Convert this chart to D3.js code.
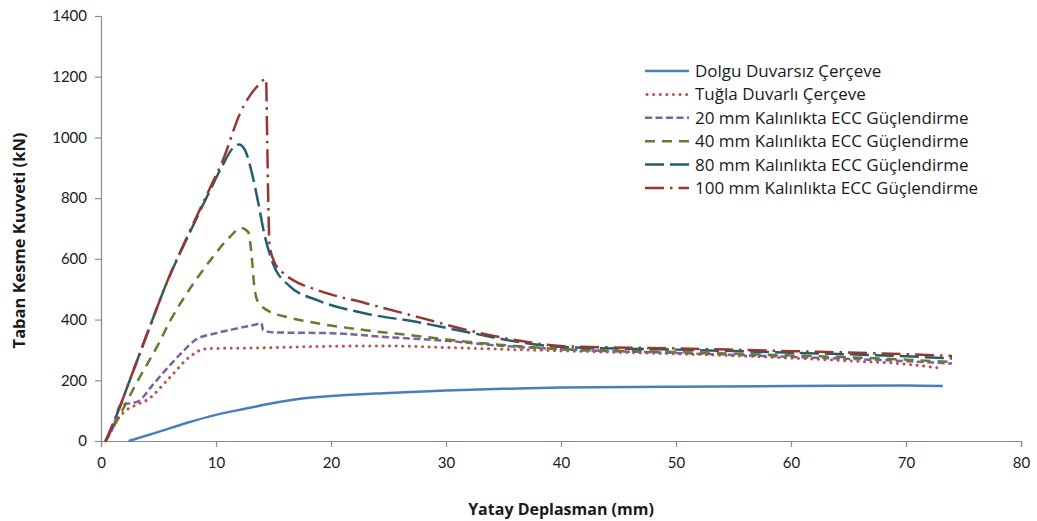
<!DOCTYPE html>
<html>
<head>
<meta charset="utf-8">
<script src="https://cdn.jsdelivr.net/npm/d3@7"></script>
<style>
  html, body { margin: 0; padding: 0; background: #fff; }
  svg { display: block; font-family: "Open Sans", Lato, sans-serif; }
</style>
</head>
<body>
<svg id="chart" width="1037" height="521"></svg>
<script>
// Displacement (mm) / base shear (kN) pairs for each frame configuration
const bareFrame = [[2.4,0],[5,30],[7.5,60],[10,86],[12.5,106],[15,125],[17.5,140],[20,148],[25,158],[30,166],[35,172],[40,176],[50,179],[60,181],[70,183],[73.2,181]];
const brickInfill = [[0.4,0],[1.1,52],[1.9,92],[3,118],[4,135],[6,210],[7.7,277],[9,303],[10,305],[13,306],[20,312],[25,313],[30,308],[35,302],[40,297],[45,292],[50,287],[55,281],[60,273],[65,264],[70,253],[73,240]];
const ecc20 = [[0.4,0],[1,40],[1.7,118],[2.5,124],[3.2,130],[4.5,185],[6,250],[7,290],[8.3,335],[10,355],[12,372],[13.5,384],[13.95,388],[14.1,365],[15,358],[20,355],[25,342],[30,330],[35,313],[40,302],[50,290],[60,277],[70,263],[74,255]];
const ecc40 = [[0.4,0],[1.5,75],[3,185],[5,320],[6,395],[7.7,500],[9.5,595],[11.2,672],[12.2,702],[12.8,688],[13.1,610],[13.3,520],[13.6,462],[14.4,432],[16.2,408],[18.8,388],[23,365],[27.5,346],[31.8,327],[36,313],[40,303],[50,293],[60,282],[70,268],[74,260]];
const ecc80 = [[0.4,0],[1.2,70],[2.5,200],[4.3,382],[5.7,520],[7.7,685],[9.5,827],[10.6,910],[11.4,962],[12,977],[12.5,960],[13.2,870],[13.7,780],[14.1,700],[14.9,590],[16.4,510],[18.8,464],[23,420],[27.5,392],[31.8,359],[36.2,327],[40,310],[50,301],[60,291],[70,279],[74,272]];
const ecc100 = [[0.4,0],[1.2,70],[2.5,200],[4.3,382],[5.7,520],[7.7,690],[9.5,835],[10.6,925],[12.1,1080],[13.7,1173],[14.35,1193],[14.45,1000],[14.55,780],[14.65,650],[15,596],[15.8,555],[16.7,530],[18.8,497],[23,454],[27.5,409],[31.8,366],[36,333],[40,313],[50,305],[60,296],[70,286],[74,280]];

const seriesNames = [
  "Dolgu Duvarsız Çerçeve",
  "Tuğla Duvarlı Çerçeve",
  "20 mm Kalınlıkta ECC Güçlendirme",
  "40 mm Kalınlıkta ECC Güçlendirme",
  "80 mm Kalınlıkta ECC Güçlendirme",
  "100 mm Kalınlıkta ECC Güçlendirme"
];
const seriesData = [bareFrame, brickInfill, ecc20, ecc40, ecc80, ecc100];

const xTicks = [0, 10, 20, 30, 40, 50, 60, 70, 80];
const yTicks = [0, 200, 400, 600, 800, 1000, 1200, 1400];

// Stroke styles per series
const styles = [
  { color: "#4a7ebb", width: 2.5, dash: null, cap: "butt" },
  { color: "#c0504d", width: 3, dash: "0.1,6.5", cap: "round" },
  { color: "#7d60a0", width: 2.5, dash: "7,3.5", cap: "butt" },
  { color: "#677a2e", width: 2.5, dash: "10,7", cap: "butt" },
  { color: "#215f6e", width: 2.5, dash: "19,6", cap: "butt" },
  { color: "#9a3532", width: 2.5, dash: "19,6,2.5,6", cap: "butt" }
];

const svg = d3.select("#chart");
const margin = { left: 101, right: 16, top: 16, bottom: 80 };
const W = 1037, H = 521;

const x = d3.scaleLinear().domain([0, 80]).range([margin.left, W - margin.right]);
const y = d3.scaleLinear().domain([0, 1400]).range([H - margin.bottom, margin.top]);

const axisColor = "#8c8c8c";

// Y axis
const yAxis = svg.append("g")
  .attr("transform", `translate(${x(0)},0)`)
  .call(d3.axisLeft(y).tickValues(yTicks).tickSize(6).tickPadding(8).tickFormat(d3.format("d")));
// X axis
const xAxis = svg.append("g")
  .attr("transform", `translate(0,${y(0)})`)
  .call(d3.axisBottom(x).tickValues(xTicks).tickSize(6).tickPadding(10));

[yAxis, xAxis].forEach(g => {
  g.select(".domain").attr("stroke", axisColor).attr("stroke-width", 1.2);
  g.selectAll(".tick line").attr("stroke", axisColor).attr("stroke-width", 1.2);
  g.selectAll(".tick text").attr("fill", "#1a1a1a").style("font-size", "15px")
    .style("font-family", "Lato, sans-serif");
});

// Curves
const line = d3.line()
  .x(d => x(d[0]))
  .y(d => y(d[1]))
  .curve(d3.curveMonotoneX);

svg.append("g").selectAll("path")
  .data(seriesData)
  .join("path")
  .attr("d", d => line(d))
  .attr("fill", "none")
  .attr("stroke", (d, i) => styles[i].color)
  .attr("stroke-width", (d, i) => styles[i].width)
  .attr("stroke-dasharray", (d, i) => styles[i].dash)
  .attr("stroke-linecap", (d, i) => styles[i].cap)
  .attr("stroke-linejoin", "round");

// Axis titles
svg.append("text")
  .attr("x", (x(0) + x(80)) / 2)
  .attr("y", 515)
  .attr("text-anchor", "middle")
  .style("font-size", "16px")
  .style("font-weight", "bold")
  .attr("fill", "#1a1a1a")
  .text("Yatay Deplasman (mm)");

svg.append("text")
  .attr("transform", `translate(25,${(y(0) + y(1400)) / 2 + 12}) rotate(-90)`)
  .attr("text-anchor", "middle")
  .style("font-size", "16.5px")
  .style("font-weight", "bold")
  .attr("fill", "#1a1a1a")
  .text("Taban Kesme Kuvveti (kN)");

// Legend
const legend = svg.append("g").attr("transform", "translate(645,71)");
const rowH = 23.4;
const rows = legend.selectAll("g")
  .data(seriesNames)
  .join("g")
  .attr("transform", (d, i) => `translate(0,${i * rowH})`);

rows.append("line")
  .attr("x1", (d, i) => i === 1 ? 2 : 0)
  .attr("x2", 44)
  .attr("y1", 0).attr("y2", 0)
  .attr("stroke", (d, i) => styles[i].color)
  .attr("stroke-width", (d, i) => styles[i].width)
  .attr("stroke-dasharray", (d, i) => styles[i].dash)
  .attr("stroke-linecap", (d, i) => styles[i].cap);

rows.append("text")
  .attr("x", 50)
  .attr("y", 6)
  .style("font-size", "17px")
  .attr("fill", "#1a1a1a")
  .text(d => d);
</script>
</body>
</html>
